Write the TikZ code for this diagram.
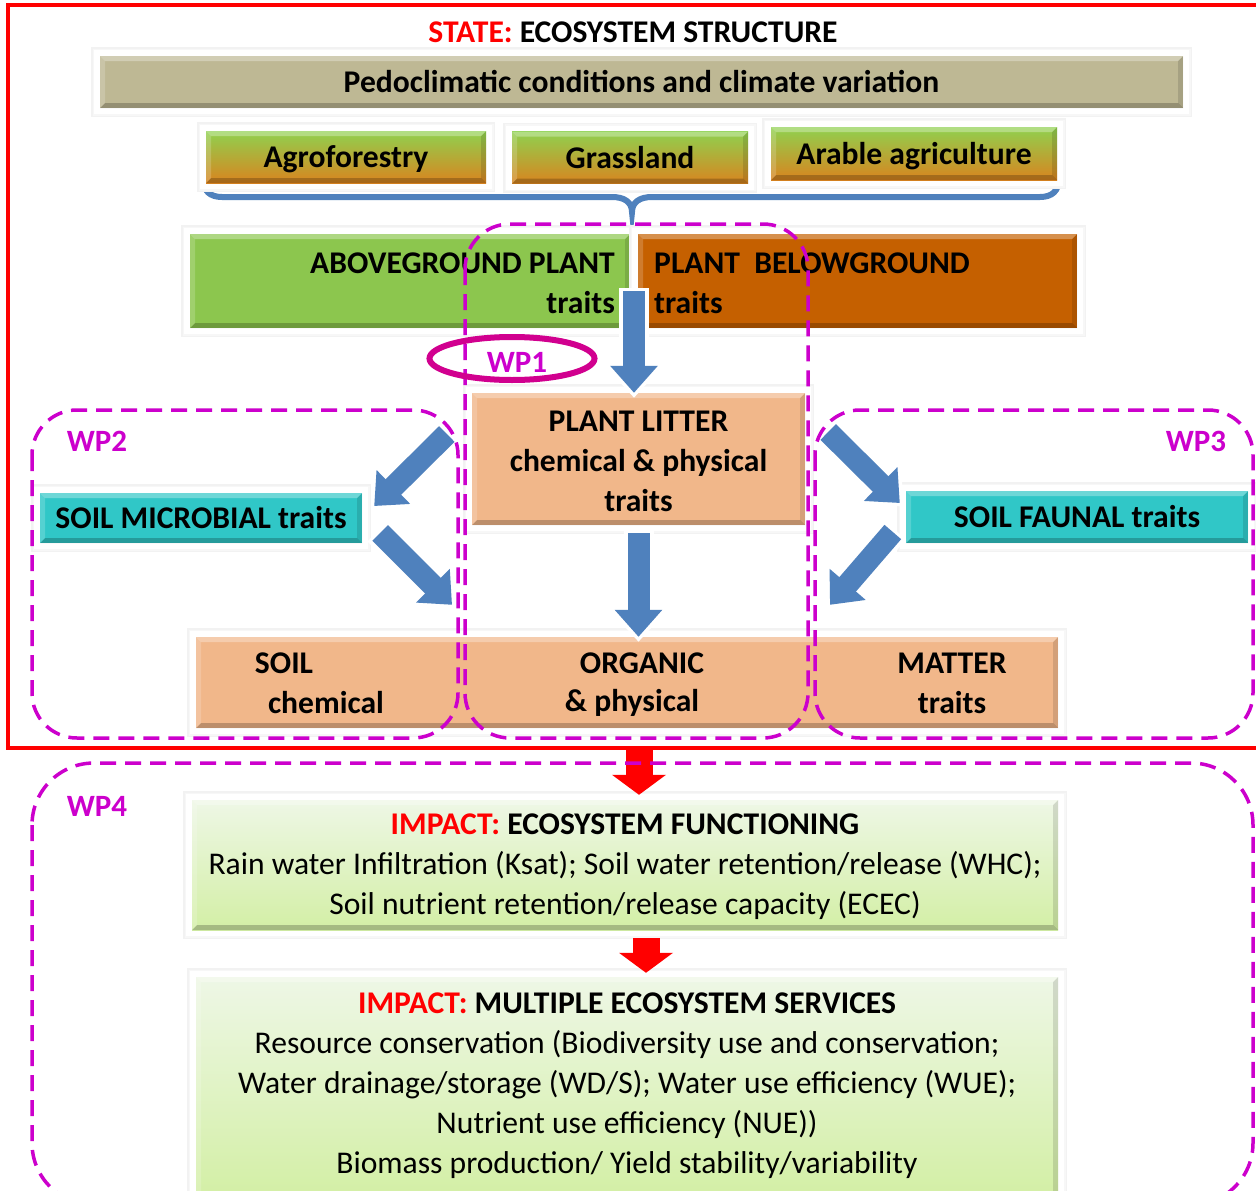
\documentclass[tikz,border=0pt]{standalone}
\usepackage{fontspec}
\setmainfont{Carlito}
\usetikzlibrary{arrows.meta,calc,shapes.geometric}
\definecolor{wpc}{HTML}{CC00CC}
\definecolor{wpone}{HTML}{D1008F}
\definecolor{tanc}{HTML}{BEB894}
\definecolor{greenc}{HTML}{8CC64E}
\definecolor{brownc}{HTML}{C56000}
\definecolor{peach}{HTML}{F1B78A}
\definecolor{tealc}{HTML}{30C7C7}
\definecolor{arrowblue}{HTML}{4F81BD}
\definecolor{gtop}{HTML}{8FD14F}
\definecolor{gmid}{HTML}{A8BE3A}
\definecolor{gbot}{HTML}{D9841F}
\definecolor{impT}{HTML}{EEF7E6}
\definecolor{impB}{HTML}{D3EFA5}
\tikzset{
  lbl/.style={font=\fontsize{31.6}{40}\selectfont\bfseries, inner sep=0pt, align=center},
  rtxt/.style={font=\fontsize{31.6}{40}\selectfont, inner sep=0pt, align=center},
  wplbl/.style={font=\fontsize{31}{36}\selectfont\bfseries, text=wpc, inner sep=0pt},
  bevel/.style={path picture={
    \coordinate (bsw) at (path picture bounding box.south west);
    \coordinate (bne) at (path picture bounding box.north east);
    \coordinate (bse) at (path picture bounding box.south east);
    \coordinate (bnw) at (path picture bounding box.north west);
    \fill[black,opacity=.22] (bsw) -- (bse) -- ([shift={(-5pt,5pt)}]bse) -- ([shift={(5pt,5pt)}]bsw) -- cycle;
    \fill[black,opacity=.12] (bse) -- (bne) -- ([shift={(-5pt,-5pt)}]bne) -- ([shift={(-5pt,5pt)}]bse) -- cycle;
    \fill[white,opacity=.30] (bnw) -- (bne) -- ([shift={(-5pt,-5pt)}]bne) -- ([shift={(5pt,-5pt)}]bnw) -- cycle;
    \fill[white,opacity=.18] (bnw) -- (bsw) -- ([shift={(5pt,5pt)}]bsw) -- ([shift={(5pt,-5pt)}]bnw) -- cycle;
  }},
  framed/.style={preaction={draw=black!5,line width=18pt}, preaction={draw=black!3,line width=15pt}, preaction={draw=white,line width=12pt}},
  box/.style={framed, bevel, lbl},
  gradbox/.style={top color=gtop, middle color=gmid, bottom color=gbot, text depth=0pt},
  impact/.style={top color=impT, bottom color=impB},
  barrow/.style={draw=arrowblue, line width=22pt, -{Triangle[length=27pt,width=46pt]},
    preaction={draw=white, line width=30pt, -{Triangle[length=33pt,width=58pt]}, shorten >=-5pt, shorten <=-3pt}},
  rarrow/.style={draw=red, line width=27pt, -{Triangle[length=20pt,width=53pt]}},
  wpbox/.style={draw=wpc, line width=3.5pt, dash pattern=on 16pt off 9pt, rounded corners=#1},
  wpbox/.default=45pt
}
\begin{document}
\begin{tikzpicture}[x=1pt,y=-1pt]
\useasboundingbox (0,0) rectangle (1256,1191);
\fill[white] (0,0) rectangle (1256,1191);

% state frame
\node[draw=red, line width=4pt, minimum width=1262pt, minimum height=743pt, inner sep=0pt] (state) at (639,376.5) {};
\node[lbl] (title) at (633,32) {\textcolor{red}{STATE:} ECOSYSTEM STRUCTURE};

% brace
\draw[arrowblue, line width=6pt] (203,178) .. controls (203,191) and (210,197) .. (222,197) -- (612,197)
  .. controls (624,197) and (632,202) .. (632,212) .. controls (632,202) and (640,197) .. (652,197)
  -- (1040,197) .. controls (1052,197) and (1059,191) .. (1059,178);

% boxes
\node[box, fill=tanc, minimum width=1083pt, minimum height=52pt] (pedo) at (641.5,82) {Pedoclimatic conditions and climate variation};
\node[box, gradbox, minimum width=280pt, minimum height=52pt] (agro) at (346,157) {Agroforestry};
\node[box, gradbox, minimum width=236pt, minimum height=52pt] (grass) at (630,157.5) {Grassland};
\node[box, gradbox, minimum width=286pt, minimum height=53pt] (arable) at (914,153.5) {Arable agriculture};

\node[box, fill=greenc, minimum width=440pt, minimum height=94pt] (above) at (410,281) {};
\node[box, fill=brownc, minimum width=439pt, minimum height=94pt] (below) at (857.5,281) {};
\node[lbl, anchor=east, align=right] (abovet) at (615,283) {ABOVEGROUND PLANT\\traits};
\node[lbl, anchor=west, align=left] (belowt) at (654,283) {PLANT\ \ BELOWGROUND\\traits};

\node[box, fill=peach, minimum width=333pt, minimum height=132pt] (litter) at (638.5,459) {};
\node[lbl] (littert) at (638.5,461) {PLANT LITTER\\chemical \& physical\\traits};
\node[box, fill=tealc, minimum width=322pt, minimum height=50pt] (micro) at (201,518) {SOIL MICROBIAL traits};
\node[box, fill=tealc, minimum width=342pt, minimum height=52pt] (faunal) at (1077,517) {SOIL FAUNAL traits};

\node[box, fill=peach, minimum width=862pt, minimum height=91pt] (som) at (627,682.5) {};
\node[lbl] (s1) at (284,663) {SOIL};
\node[lbl] (s2) at (326,703) {chemical};
\node[lbl] (s3) at (642,663) {ORGANIC};
\node[lbl] (s4) at (632,703) {\& physical};
\node[lbl] (s5) at (952,663) {MATTER};
\node[lbl] (s6) at (952,703) {traits};

\node[box, impact, minimum width=866pt, minimum height=130pt] (imp1) at (625,865) {};
\node[rtxt] (imp1t) at (625,867)
  {{\bfseries\textcolor{red}{IMPACT:} ECOSYSTEM FUNCTIONING}\\Rain water Infiltration (Ksat); Soil water retention/release (WHC);\\Soil nutrient retention/release capacity (ECEC)};
\node[box, impact, minimum width=862pt, minimum height=220pt] (imp2) at (627,1087) {};
\node[rtxt] (imp2t) at (627,1085.5)
  {{\bfseries\textcolor{red}{IMPACT:} MULTIPLE ECOSYSTEM SERVICES}\\Resource conservation (Biodiversity use and conservation;\\Water drainage/storage (WD/S); Water use efficiency (WUE);\\Nutrient use efficiency (NUE))\\Biomass production/ Yield stability/variability};

% blue arrows
\coordinate (ab) at ($(above.east)!.5!(below.west)$);
\draw[barrow] ([yshift=-10pt]ab) -- (ab |- litter.north);
\draw[barrow] ([shift={(-25,-25)}]litter.west) -- ([shift={(12,-12)}]micro.east);
\draw[barrow] ([shift={(18,15)}]micro.east) -- ([shift={(-175,-32)}]som.north);
\draw[barrow] ([shift={(23,-27)}]litter.east) -- ([shift={(-6,-14)}]faunal.west);
\draw[barrow] ([shift={(-13,15)}]faunal.west) -- ([shift={(203,-32)}]som.north);
\draw[barrow] ([yshift=-8pt]litter.south) -- (litter.south |- som.north);

% red arrows
\draw[rarrow, shorten >=5pt] (state.south) -- (state.south |- imp1.north);
\coordinate (r2) at ([xshift=21pt]imp1.south);
\draw[rarrow, shorten >=4pt] ([yshift=-8pt]r2) -- (r2 |- imp2.north);

% work packages
\draw[wpbox] (465,224) rectangle (808,738);
\draw[wpbox] (32,410) rectangle (458,738);
\draw[wpbox] (815,410) rectangle (1253,738);
\draw[wpbox=62pt] (32,763) rectangle (1253,1205);
\node[draw=wpone, line width=6pt, ellipse, minimum width=165pt, minimum height=43pt, inner sep=0pt] (wp1e) at (512,358.5) {};
\node[wplbl] (wp1) at (517,362) {WP1};
\node[wplbl] (wp2) at (97,441) {WP2};
\node[wplbl] (wp3) at (1196,441) {WP3};
\node[wplbl] (wp4) at (97,806) {WP4};
\end{tikzpicture}
\end{document}
